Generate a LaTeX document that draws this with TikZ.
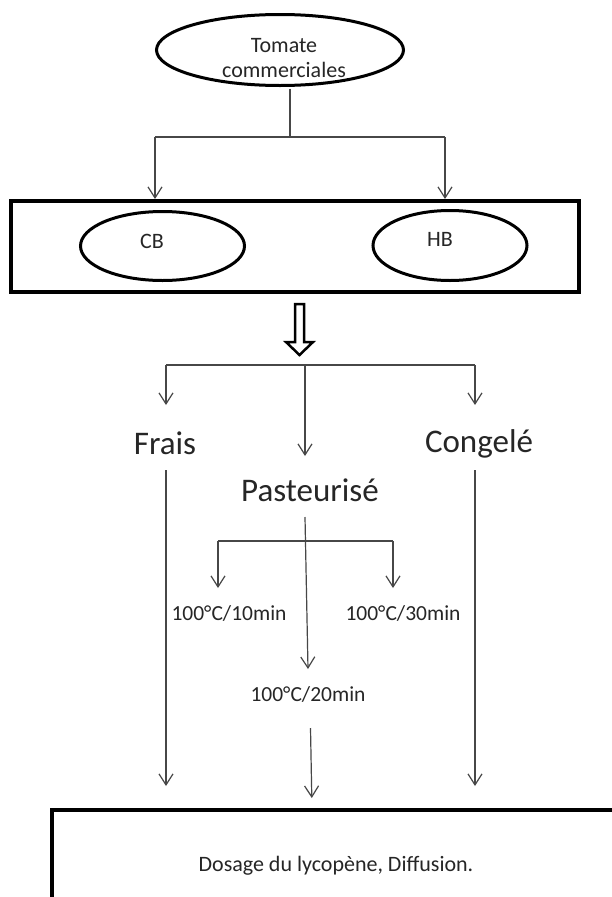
\documentclass[tikz,border=0pt]{standalone}
\usepackage{fontspec}
\setmainfont{Carlito}
\usetikzlibrary{arrows.meta,shapes.geometric}
\begin{document}
\begin{tikzpicture}[x=1pt,y=-1pt,
  conn/.style={draw=black!72,line width=1.2pt},
  arr/.style={-{Straight Barb[length=11pt,width=14pt]}},
  ell/.style={shape=ellipse,draw=black,line width=3pt,inner sep=0pt},
  bigbox/.style={shape=rectangle,draw=black,line width=4pt,inner sep=0pt},
  big/.style={font=\fontsize{33}{40}\selectfont,inner sep=0pt,text=black!85},
  small/.style={font=\fontsize{22}{25}\selectfont,inner sep=0pt,text=black!85},
  label/.style={font=\fontsize{21.5}{26}\selectfont,inner sep=0pt,text=black!85},
  hollow/.style={draw=black,line width=2.5pt,fill=white,line join=miter}]
\useasboundingbox (0,0) rectangle (611,897);
\fill[white] (0,0) rectangle (611,897);

% top ellipse
\node[ell,minimum width=247pt,minimum height=71pt] (tom) at (280,50) {};
\node[small,align=center] (tomtxt) at (284,58) {Tomate\\commerciales};

% box with CB / HB
\node[bigbox,minimum width=568pt,minimum height=91pt] (box) at (295,246.5) {};
\node[ell,minimum width=164pt,minimum height=69pt] (cb) at (162.5,246) {};
\node[ell,minimum width=154pt,minimum height=70pt] (hb) at (450,245.5) {};
\node[small,anchor=base] (cbtxt) at (152,248) {CB};
\node[small,anchor=base] (hbtxt) at (440,246.5) {HB};

% connectors from top ellipse
\coordinate (tomdrop) at (290,88.5);
\coordinate (j1) at (290,137);
\coordinate (jl) at (155,137);
\coordinate (jr) at (445,137);
\coordinate (cbtip) at (155,199);
\coordinate (hbtip) at (445,199);
\draw[conn] (tomdrop) -- (j1);
\draw[conn] (jl) -- (jr);
\draw[conn,arr] (jl) -- (cbtip);
\draw[conn,arr] (jr) -- (hbtip);

% hollow arrow
\draw[hollow] (295,304) -- (304,304) -- (304,342) -- (313,342) -- (299.5,355) -- (286,342) -- (295,342) -- cycle;

% branch
\coordinate (b0) at (305,365);
\coordinate (bl) at (166,365);
\coordinate (br) at (475,365);
\coordinate (fraistip) at (166,405);
\coordinate (congtip) at (475,405);
\coordinate (pasttip) at (305,456);
\draw[conn] (bl) -- (br);
\draw[conn,arr] (bl) -- (fraistip);
\draw[conn,arr] (br) -- (congtip);
\draw[conn,arr] (b0) -- (pasttip);

\node[big,anchor=base] (frais) at (165,454) {Frais};
\node[big,anchor=base] (cong) at (479,452) {Congelé};
\node[big,anchor=base] (past) at (310,501) {Pasteurisé};

% pasteurise sub-branch
\coordinate (pastfoot) at (305,517);
\coordinate (t20tip) at (308,669);
\coordinate (sl) at (218,541);
\coordinate (sr) at (393,541);
\coordinate (t10tip) at (218,588);
\coordinate (t30tip) at (393,588);
\draw[conn,arr] (pastfoot) -- (t20tip);
\draw[conn] (sl) -- (sr);
\draw[conn,arr] (sl) -- (t10tip);
\draw[conn,arr] (sr) -- (t30tip);

\node[label,anchor=base] (t10) at (229,620) {100°C/10min};
\node[label,anchor=base] (t30) at (403,620) {100°C/30min};
\node[label,anchor=base] (t20) at (308,701) {100°C/20min};

% long arrows down to the final box
\coordinate (fraisfoot) at (166,470);
\coordinate (fraisend) at (166,786);
\coordinate (congfoot) at (475,470);
\coordinate (congend) at (475,786);
\coordinate (t20foot) at (310.5,728);
\coordinate (dosend) at (311.8,798);
\draw[conn,arr] (fraisfoot) -- (fraisend);
\draw[conn,arr] (congfoot) -- (congend);
\draw[conn,arr] (t20foot) -- (dosend);

% final box
\node[bigbox,minimum width=568pt,minimum height=112pt,font=\fontsize{22}{25}\selectfont,text=black!85] (dos) at (336,866) {Dosage du lycopène, Diffusion.};
\end{tikzpicture}
\end{document}
